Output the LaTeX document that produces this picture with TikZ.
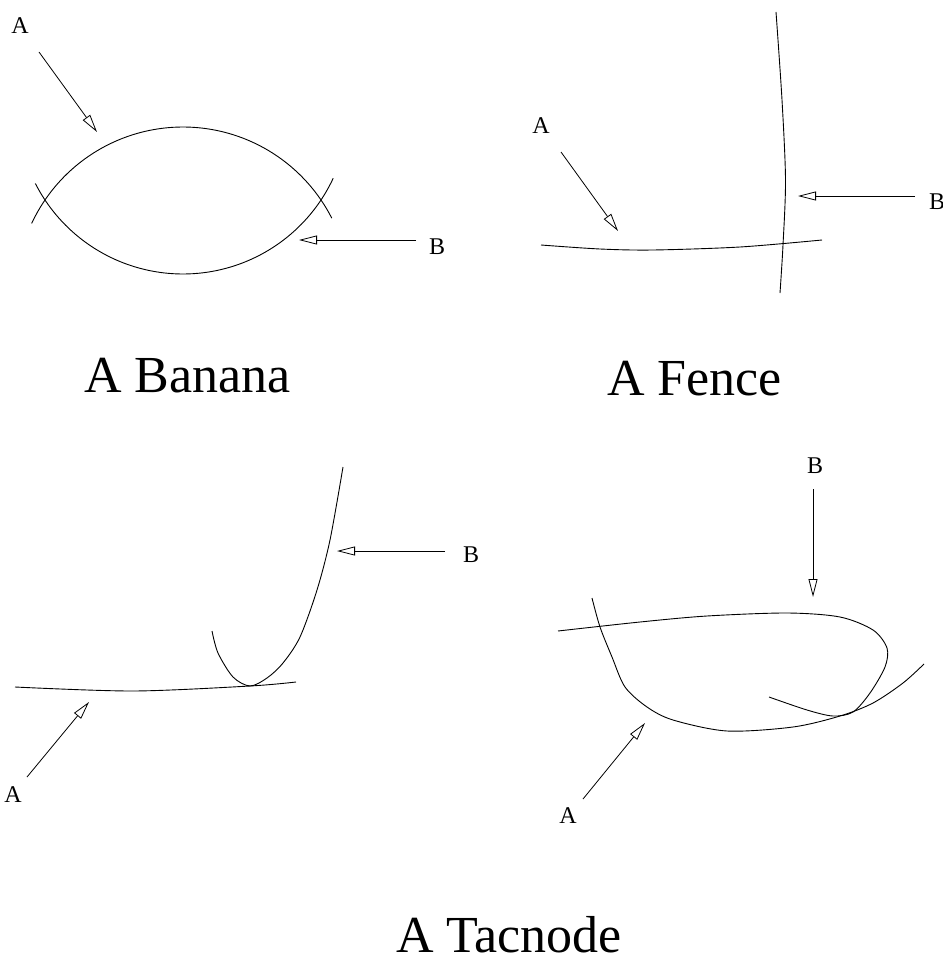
\documentclass[tikz,border=0pt]{standalone}
\usepackage{fontspec}
\setmainfont{Liberation Serif}
\usetikzlibrary{arrows.meta}
\begin{document}
\begin{tikzpicture}[x=1pt,y=-1pt,
  curve/.style={line width=0.9pt, line join=round},
  pointer/.style={line width=0.8pt, -{Triangle[open,length=18pt,width=9pt]}},
  lbl/.style={font=\fontsize{24}{28}\selectfont, anchor=base, inner sep=0pt},
  ttl/.style={font=\fontsize{52}{60}\selectfont, anchor=base, inner sep=0pt}]
\useasboundingbox (0,0) rectangle (942,955);

% ---------- A Banana ----------
\draw[curve] plot[domain=27:155, samples=80] ({183+167*cos(\x)},{294-167*sin(\x)});
\draw[curve] plot[domain=25:153, samples=80] ({183+165.7*cos(\x)},{108.3+165.7*sin(\x)});
\node[lbl] (bA) at (20,34) {A};
\node[lbl] (bB) at (437,254) {B};
\coordinate (bAt) at (39,52);  \coordinate (bAh) at (97,132);
\coordinate (bBt) at (416,240); \coordinate (bBh) at (299,240);
\draw[pointer] (bAt) -- (bAh);
\draw[pointer] (bBt) -- (bBh);
\node[ttl] (banana) at (187.5,392) {A Banana};

% ---------- A Fence ----------
\draw[curve] plot[smooth] coordinates {(776,12) (782,100) (785.5,180) (783,245) (780,293)};
\draw[curve] plot[smooth] coordinates {(541,245) (600,249) (653,250) (740,247) (822,240)};
\node[lbl] (fA) at (541,134) {A};
\node[lbl] (fB) at (937,209) {B};
\coordinate (fAt) at (561,152); \coordinate (fAh) at (618,231);
\coordinate (fBt) at (915,196); \coordinate (fBh) at (798,196);
\draw[pointer] (fAt) -- (fAh);
\draw[pointer] (fBt) -- (fBh);
\node[ttl] (fence) at (694.5,395) {A Fence};

% ---------- Tacnode (left) ----------
\draw[curve] plot[smooth] coordinates {(15,687) (133,691) (250,686) (296,682)};
\draw[curve] plot[smooth] coordinates {(212,631) (218,653) (233,677) (250,686) (267,678) (283,663) (300,637) (317,590) (330,540) (343,467)};
\node[lbl] (tlA) at (13,802) {A};
\node[lbl] (tlB) at (471,562) {B};
\coordinate (tlAt) at (27,777);  \coordinate (tlAh) at (89,702);
\coordinate (tlBt) at (445,551); \coordinate (tlBh) at (337,551);
\draw[pointer] (tlAt) -- (tlAh);
\draw[pointer] (tlBt) -- (tlBh);

% ---------- Tacnode (right) ----------
\draw[curve] plot[smooth] coordinates {(558,631) (640,622) (707,616) (787,613) (840,617) (873,630) (887,648) (885,667) (870,693) (853,712) (833,716) (807,710) (769,697)};
\draw[curve] plot[smooth] coordinates {(592,598) (600,627) (612,657) (625,687) (647,707) (673,720) (727,731) (793,727) (840,716) (873,703) (903,683) (924,664)};
\node[lbl] (trA) at (568,823) {A};
\node[lbl] (trB) at (815,473) {B};
\coordinate (trAt) at (583,799); \coordinate (trAh) at (645,723);
\coordinate (trBt) at (813,489); \coordinate (trBh) at (813,597);
\draw[pointer] (trAt) -- (trAh);
\draw[pointer] (trBt) -- (trBh);

\node[ttl] (tacnode) at (509,952) {A Tacnode};
\end{tikzpicture}
\end{document}
